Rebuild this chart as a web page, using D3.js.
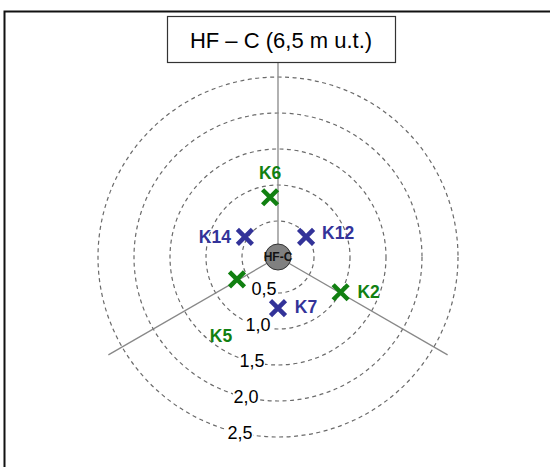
<!DOCTYPE html>
<html><head><meta charset="utf-8">
<script src="https://cdn.jsdelivr.net/npm/d3@7"></script>
<style>html,body{margin:0;padding:0;background:#fff;}svg{display:block;}</style>
</head><body>
<svg id="c" width="550" height="467"></svg>
<script>
// Data
const title = "HF – C (6,5 m u.t.)";
const centerLabel = "HF-C";
const ringValues = [0.5, 1.0, 1.5, 2.0, 2.5];
const ringLabels = ["0,5", "1,0", "1,5", "2,0", "2,5"];
const axisAngles = [0, 120, 240]; // degrees clockwise from up
const axisLength = 2.72;
const pointNames = ["K6", "K14", "K12", "K5", "K2", "K7"];
const pointX = [-0.11, -0.46, 0.39, -0.57, 0.87, 0.0];   // m, east positive
const pointY = [0.83, 0.28, 0.28, -0.31, -0.49, -0.71];   // m, north positive
const pointGroup = ["g", "b", "b", "g", "g", "b"];
const labelDX = [0, -30, 32, -16, 28, 28];
const labelDY = [-24, 0, -4, 57, 0, -1];

const colors = {g: "#118011", b: "#333399"};
const svg = d3.select("#c");
const cx = 278, cy = 257;
const r = d3.scaleLinear().domain([0, 2.5]).range([0, 180]);
const sx = d3.scaleLinear().domain([0, 1]).range([cx, cx + r(1)]);
const sy = d3.scaleLinear().domain([0, 1]).range([cy, cy - r(1)]);

// frame
svg.append("rect").attr("x", 4.5).attr("y", 11.5).attr("width", 560).attr("height", 470)
  .attr("fill", "none").attr("stroke", "#111").attr("stroke-width", 2);

// rings
svg.selectAll("circle.ring").data(ringValues).enter().append("circle")
  .attr("class", "ring").attr("cx", cx).attr("cy", cy).attr("r", d => r(d))
  .attr("fill", "none").attr("stroke", "#6a6a6a").attr("stroke-width", 1.2)
  .attr("stroke-dasharray", "4,3.5");

// axes
svg.selectAll("line.axis").data(axisAngles).enter().append("line")
  .attr("class", "axis").attr("x1", cx).attr("y1", cy)
  .attr("x2", d => cx + r(axisLength) * Math.sin(d * Math.PI / 180))
  .attr("y2", d => cy - r(axisLength) * Math.cos(d * Math.PI / 180))
  .attr("stroke", "#888").attr("stroke-width", 1.3);

// ring labels
const rl = svg.selectAll("g.rl").data(ringValues).enter().append("g").attr("class", "rl")
  .attr("transform", d => `translate(${cx - 8 - d * 12},${cy + r(d) - 4})`);
rl.append("rect").attr("x", -13).attr("y", -9).attr("width", 26).attr("height", 17).attr("fill", "#fff");
rl.append("text").text((d, i) => ringLabels[i]).attr("text-anchor", "middle").attr("dy", "0.35em")
  .attr("font-family", "Liberation Sans, Arial, sans-serif").attr("font-size", 18).attr("fill", "#000");

// title box
svg.append("rect").attr("x", 167.5).attr("y", 16.5).attr("width", 228).attr("height", 46)
  .attr("fill", "#fff").attr("stroke", "#333").attr("stroke-width", 1.2);
svg.append("text").text(title).attr("x", 281).attr("y", 40).attr("dy", "0.35em")
  .attr("text-anchor", "middle").attr("font-family", "Liberation Sans, Arial, sans-serif")
  .attr("font-size", 22).attr("fill", "#000");

// center
svg.append("circle").attr("cx", cx).attr("cy", cy).attr("r", 13)
  .attr("fill", "#808080").attr("stroke", "#333").attr("stroke-width", 1);
svg.append("text").text(centerLabel).attr("x", cx).attr("y", cy).attr("dy", "0.35em")
  .attr("text-anchor", "middle").attr("font-family", "Liberation Sans, Arial, sans-serif")
  .attr("font-weight", "bold").attr("font-size", 12).attr("fill", "#111");

// points
const pts = svg.selectAll("g.pt").data(pointNames).enter().append("g").attr("class", "pt")
  .attr("transform", (d, i) => `translate(${sx(pointX[i])},${sy(pointY[i])})`);
const s = 7.5;
pts.append("path").attr("d", `M${-s},${-s}L${s},${s}M${-s},${s}L${s},${-s}`)
  .attr("stroke", (d, i) => colors[pointGroup[i]]).attr("stroke-width", 4.5).attr("fill", "none");
pts.append("text").text(d => d).attr("x", (d, i) => labelDX[i]).attr("y", (d, i) => labelDY[i])
  .attr("dy", "0.35em").attr("text-anchor", "middle")
  .attr("font-family", "Liberation Sans, Arial, sans-serif").attr("font-weight", "bold")
  .attr("font-size", 17.5).attr("fill", (d, i) => colors[pointGroup[i]]);
</script>
</body></html>
